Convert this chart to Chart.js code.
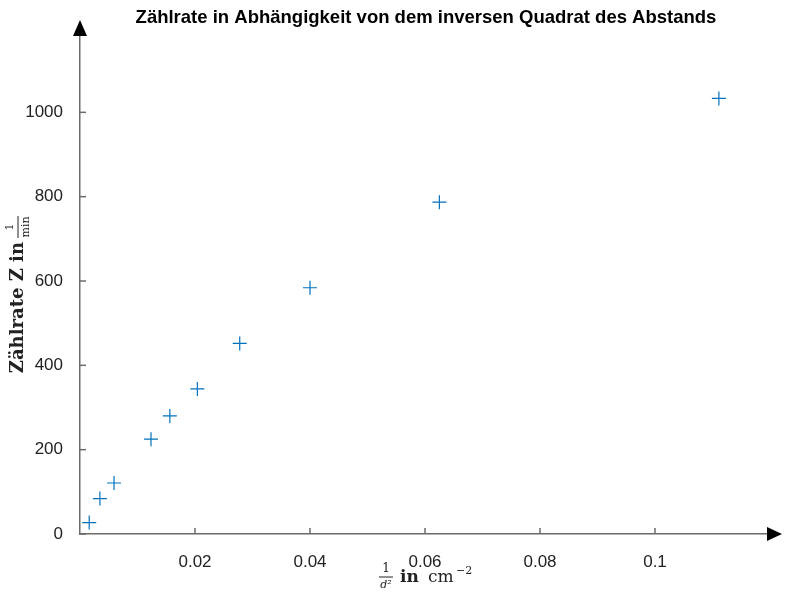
<!DOCTYPE html>
<html>
<head>
<meta charset="utf-8">
<script src="https://cdn.jsdelivr.net/npm/chart.js@4"></script>
<style>
  body { margin: 0; background: #fff; }
  #wrap { width: 800px; height: 592px; }
</style>
</head>
<body>
<div id="wrap"><canvas id="c"></canvas></div>
<script>
// Abstand d in cm und gemessene Zählrate
const distances = [25, 17, 13, 9, 8, 7, 6, 5, 4, 3];
const inverseSquare = distances.map(d => 1 / (d * d));
const countRates = [27, 84, 121, 225, 280, 344, 452, 584, 787, 1033];
const xTicks = [0.02, 0.04, 0.06, 0.08, 0.1];
const yTicks = [0, 200, 400, 600, 800, 1000];

const axisColor = '#6b6b6b';

const decorations = {
    id: 'decorations',
    afterDraw(chart) {
        const ctx = chart.ctx;
        const a = chart.chartArea;
        const xs = chart.scales.x, ys = chart.scales.y;
        ctx.save();
        ctx.strokeStyle = axisColor;
        ctx.lineWidth = 1.5;
        // inward ticks
        xTicks.forEach(v => {
            const px = xs.getPixelForValue(v);
            ctx.beginPath(); ctx.moveTo(px, a.bottom); ctx.lineTo(px, a.bottom - 6); ctx.stroke();
        });
        yTicks.forEach(v => {
            const py = ys.getPixelForValue(v);
            ctx.beginPath(); ctx.moveTo(a.left, py); ctx.lineTo(a.left + 6, py); ctx.stroke();
        });
        // arrows
        ctx.fillStyle = '#000';
        ctx.beginPath();
        ctx.moveTo(a.left, a.top - 8); ctx.lineTo(a.left - 7, a.top + 8); ctx.lineTo(a.left + 7, a.top + 8);
        ctx.fill();
        ctx.beginPath();
        ctx.moveTo(a.right + 12, a.bottom); ctx.lineTo(a.right - 3, a.bottom - 7); ctx.lineTo(a.right - 3, a.bottom + 7);
        ctx.fill();

        // title
        ctx.fillStyle = '#000';
        ctx.font = 'bold 18.5px "Liberation Sans", Arial, sans-serif';
        ctx.textAlign = 'center';
        ctx.textBaseline = 'middle';
        ctx.fillText('Zählrate in Abhängigkeit von dem inversen Quadrat des Abstands', 426, 18);

        // x axis title: 1/d² in cm⁻²
        ctx.fillStyle = '#222';
        const xc = 386, yc = 578;
        ctx.font = '12px "DejaVu Serif", serif';
        ctx.fillText('1', xc, yc - 9);
        ctx.font = 'italic 11px "DejaVu Serif", serif';
        ctx.fillText('d²', xc, yc + 7);
        ctx.lineWidth = 1; ctx.strokeStyle = '#222';
        ctx.beginPath(); ctx.moveTo(xc - 7, yc - 1); ctx.lineTo(xc + 7, yc - 1); ctx.stroke();
        ctx.textAlign = 'left';
        ctx.font = 'bold 17px "DejaVu Serif", serif';
        ctx.fillText('in', xc + 14, yc);
        ctx.font = '17px "DejaVu Serif", serif';
        ctx.fillText('cm', xc + 42, yc);
        ctx.font = '11px "DejaVu Serif", serif';
        ctx.fillText('−2', xc + 70, yc - 7);

        // y axis title: Zählrate Z in 1/min
        ctx.save();
        ctx.translate(18, 300);
        ctx.rotate(-Math.PI / 2);
        ctx.textAlign = 'right';
        ctx.font = 'bold 18px "DejaVu Serif", serif';
        ctx.fillText('Zählrate Z in', 58, 0);
        ctx.textAlign = 'center';
        ctx.font = '11px "DejaVu Serif", serif';
        ctx.fillText('1', 73, -8);
        ctx.fillText('min', 73, 8);
        ctx.beginPath(); ctx.moveTo(62, 0); ctx.lineTo(84, 0); ctx.stroke();
        ctx.restore();
        ctx.restore();
    }
};

new Chart(document.getElementById('c'), {
    type: 'scatter',
    data: {
        datasets: [{
            data: inverseSquare.map((x, i) => ({ x: x, y: countRates[i] })),
            pointStyle: 'cross',
            pointRadius: 7,
            pointBorderWidth: 1.2,
            borderColor: '#0072BD',
            backgroundColor: '#0072BD'
        }]
    },
    options: {
        responsive: true,
        maintainAspectRatio: false,
        animation: false,
        layout: { padding: { top: 28, right: 30, left: 0, bottom: 0 } },
        plugins: { legend: { display: false }, tooltip: { enabled: false } },
        scales: {
            x: {
                type: 'linear', min: 0, max: 0.12,
                afterFit: s => { s.height = 58; },
                afterBuildTicks: s => { s.ticks = xTicks.map(v => ({ value: v })); },
                grid: { display: false },
                border: { color: axisColor, width: 1.5 },
                ticks: { color: '#222', padding: 10, font: { size: 17, family: '"Liberation Sans", Arial, sans-serif' },
                    callback: v => String(v) }
            },
            y: {
                min: 0, max: 1200,
                afterFit: s => { s.width = 80; },
                afterBuildTicks: s => { s.ticks = yTicks.map(v => ({ value: v })); },
                grid: { display: false },
                border: { color: axisColor, width: 1.5 },
                ticks: { color: '#222', padding: 9, font: { size: 17, family: '"Liberation Sans", Arial, sans-serif' },
                    callback: v => String(v) }
            }
        }
    },
    plugins: [decorations]
});
</script>
</body>
</html>
